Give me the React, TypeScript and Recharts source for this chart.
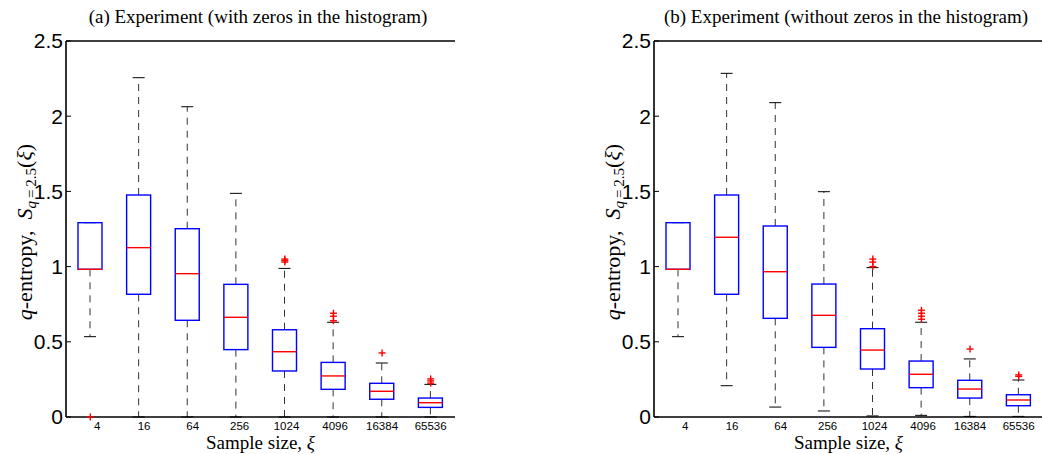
import React from "react";
import { ComposedChart, Bar, Scatter, XAxis, YAxis, ReferenceLine } from "recharts";

const sizes = ["4", "16", "64", "256", "1024", "4096", "16384", "65536"];
const yTicks = [0, 0.5, 1, 1.5, 2, 2.5];

// (a) with zeros in the histogram
const lowA = [0.534, 0, 0, 0, 0, 0, 0, 0];
const q1A = [0.982, 0.816, 0.643, 0.448, 0.306, 0.184, 0.118, 0.064];
const medA = [0.982, 1.126, 0.953, 0.663, 0.434, 0.273, 0.171, 0.095];
const q3A = [1.292, 1.476, 1.252, 0.882, 0.58, 0.363, 0.224, 0.126];
const highA = [1.292, 2.256, 2.063, 1.487, 0.988, 0.63, 0.359, 0.217];
const outA: number[][] = [[0], [], [], [], [1.03, 1.04, 1.05], [0.64, 0.67, 0.69], [0.426], [0.225, 0.24, 0.253]];

// (b) without zeros in the histogram
const lowB = [0.534, 0.208, 0.066, 0.04, 0.007, 0.011, 0.004, 0.004];
const q1B = [0.982, 0.816, 0.656, 0.463, 0.319, 0.195, 0.126, 0.075];
const medB = [0.982, 1.195, 0.966, 0.676, 0.445, 0.284, 0.186, 0.113];
const q3B = [1.292, 1.476, 1.27, 0.884, 0.587, 0.372, 0.244, 0.148];
const highB = [1.292, 2.285, 2.09, 1.498, 0.993, 0.63, 0.386, 0.246];
const outB: number[][] = [[], [], [], [], [1.0, 1.03, 1.05], [0.65, 0.67, 0.69, 0.71], [0.452], [0.27, 0.28]];

const titles = ["(a) Experiment (with zeros in the histogram)", "(b) Experiment (without zeros in the histogram)"];

function buildRows(low: number[], q1: number[], med: number[], q3: number[], high: number[], out: number[][]) {
  return sizes.map((size, i) => ({
    size,
    lowW: [low[i], q1[i]],
    box: [q1[i], q3[i]],
    highW: [q3[i], high[i]],
    med: [med[i], med[i]],
    o0: out[i][0],
    o1: out[i][1],
    o2: out[i][2],
    o3: out[i][3],
  }));
}

const serif = "Liberation Serif, DejaVu Serif, serif";
const sans = "Liberation Sans, Arial, sans-serif";
const frame = { stroke: "#000", strokeWidth: 1.6 };

const LowWhisker = (p: any) => {
  const cx = p.x + p.width / 2;
  const bottom = p.y + p.height;
  return (
    <g>
      <line x1={cx} x2={cx} y1={p.y} y2={bottom} stroke="#333" strokeDasharray="7 6" />
      <line x1={cx - 6} x2={cx + 6} y1={bottom} y2={bottom} stroke="#000" />
    </g>
  );
};

const HighWhisker = (p: any) => {
  const cx = p.x + p.width / 2;
  const bottom = p.y + p.height;
  return (
    <g>
      <line x1={cx} x2={cx} y1={bottom} y2={p.y} stroke="#333" strokeDasharray="7 6" />
      <line x1={cx - 6} x2={cx + 6} y1={p.y} y2={p.y} stroke="#000" />
    </g>
  );
};

const BoxShape = (p: any) => (
  <rect x={p.x} y={p.y} width={p.width} height={p.height} fill="none" stroke="#0000ff" strokeWidth={1.4} />
);

const MedianShape = (p: any) => (
  <line x1={p.x} x2={p.x + p.width} y1={p.y} y2={p.y} stroke="#ff0000" strokeWidth={1.4} />
);

const Plus = (p: any) => {
  if (p.cx == null || p.cy == null || Number.isNaN(p.cy)) return <g />;
  return (
    <g stroke="#ff0000" strokeWidth={1.4}>
      <line x1={p.cx - 3.5} x2={p.cx + 3.5} y1={p.cy} y2={p.cy} />
      <line x1={p.cx} x2={p.cx} y1={p.cy - 3.5} y2={p.cy + 3.5} />
    </g>
  );
};

// boxplot labels sit a little right of the box, more so for short labels
const XTick = ({ x, y, payload }: any) => {
  const label = String(payload.value);
  return (
    <text x={x + (5 - label.length) * 1.7} y={y} dy="0.71em" textAnchor="middle" fontSize={11.5} fontFamily={sans} fill="#000">
      {label}
    </text>
  );
};

function PanelText({ dx, title }: { dx: number; title: string }) {
  const bx = 32 + dx;
  const cy = 232;
  return (
    <g fill="#000" style={{ fontFamily: serif }}>
      <text x={258 + dx} y={23} textAnchor="middle" fontSize={19}>
        {title}
      </text>
      <text x={260.5 + dx} y={449} textAnchor="middle" fontSize={19}>
        Sample size, <tspan fontStyle="italic">ξ</tspan>
      </text>
      <text x={bx} y={cy} transform={`rotate(-90 ${bx} ${cy})`} textAnchor="middle" fontSize={22}>
        <tspan fontStyle="italic">q</tspan>
        <tspan>{"-entropy,\u00a0\u00a0"}</tspan>
        <tspan fontStyle="italic">S</tspan>
        <tspan fontSize={15} dy={4}>
          <tspan fontStyle="italic">q</tspan>
          {"\u2009=\u20092.5"}
        </tspan>
        <tspan dy={-4}>(</tspan>
        <tspan fontStyle="italic">ξ</tspan>
        <tspan>)</tspan>
      </text>
    </g>
  );
}

function Panel({ rows, left, marginLeft }: { rows: any[]; left: number; marginLeft: number }) {
  const width = marginLeft + 40 + 389 + 1;
  return (
    <div style={{ position: "absolute", left, top: 0 }}>
      <ComposedChart
        width={width}
        height={454}
        data={rows}
        margin={{ top: 41, right: 1, bottom: 7, left: marginLeft }}
        barGap={-24}
      >
        <XAxis
          dataKey="size"
          height={30}
          interval={0}
          tickLine={false}
          tickSize={0}
          tickMargin={5}
          axisLine={frame}
          tick={XTick}
        />
        <YAxis
          type="number"
          domain={[0, 2.5]}
          ticks={yTicks}
          interval={0}
          width={40}
          tickSize={-5}
          tickMargin={8}
          axisLine={frame}
          tickLine={{ stroke: "#000" }}
          tick={{ fontSize: 21, fontFamily: sans, fill: "#000" }}
        />
        <YAxis
          yAxisId="r"
          orientation="right"
          type="number"
          domain={[0, 2.5]}
          ticks={yTicks}
          interval={0}
          width={0}
          tick={false}
          tickSize={-5}
          axisLine={frame}
          tickLine={{ stroke: "#000" }}
        />
        <ReferenceLine y={2.5} {...frame} />
        <Bar dataKey="lowW" barSize={24} shape={LowWhisker} isAnimationActive={false} />
        <Bar dataKey="highW" barSize={24} shape={HighWhisker} isAnimationActive={false} />
        <Bar dataKey="box" barSize={24} shape={BoxShape} isAnimationActive={false} />
        <Bar dataKey="med" barSize={24} shape={MedianShape} isAnimationActive={false} />
        <Scatter dataKey="o0" shape={Plus} isAnimationActive={false} />
        <Scatter dataKey="o1" shape={Plus} isAnimationActive={false} />
        <Scatter dataKey="o2" shape={Plus} isAnimationActive={false} />
        <Scatter dataKey="o3" shape={Plus} isAnimationActive={false} />
      </ComposedChart>
    </div>
  );
}

export default function App() {
  const rowsA = buildRows(lowA, q1A, medA, q3A, highA, outA);
  const rowsB = buildRows(lowB, q1B, medB, q3B, highB, outB);
  return (
    <div style={{ position: "fixed", left: 0, top: 0, width: 1042, height: 454, background: "#fff", overflow: "hidden" }}>
      <Panel rows={rowsA} left={0} marginLeft={26} />
      <Panel rows={rowsB} left={520} marginLeft={94} />
      <svg width={1042} height={454} style={{ position: "absolute", left: 0, top: 0, pointerEvents: "none" }}>
        <PanelText dx={0} title={titles[0]} />
        <PanelText dx={588} title={titles[1]} />
      </svg>
    </div>
  );
}
